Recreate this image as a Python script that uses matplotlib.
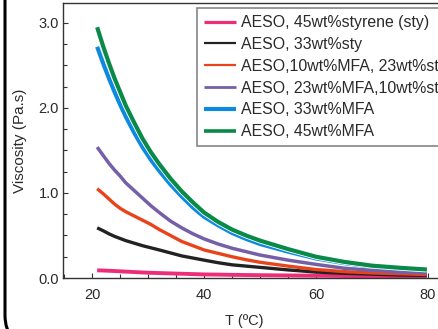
import matplotlib
matplotlib.use("Agg")
import matplotlib.pyplot as plt
from matplotlib.patches import FancyBboxPatch
from matplotlib.transforms import IdentityTransform
import matplotlib.patheffects as pe

plt.rcParams["font.family"] = ["Liberation Sans", "DejaVu Sans"]

# temperature (degC) and viscosity (Pa.s)
temp = [20.9, 22, 23, 24, 25, 26, 27.5, 29, 30.5, 32, 34, 36, 38, 40,
        42.5, 45, 47.5, 50, 55, 60, 65, 70, 75, 79.8]

sty45 = [0.09, 0.088, 0.085, 0.082, 0.079, 0.075, 0.07, 0.065, 0.061, 0.058, 0.054, 0.05, 0.046, 0.042,
         0.04, 0.037, 0.035, 0.033, 0.03, 0.027, 0.024, 0.021, 0.018, 0.016]
sty33 = [0.59, 0.555, 0.52, 0.49, 0.465, 0.44, 0.41, 0.38, 0.355, 0.33, 0.295, 0.26, 0.235, 0.21,
         0.18, 0.155, 0.14, 0.125, 0.095, 0.07, 0.055, 0.045, 0.035, 0.03]
mfa10 = [1.05, 0.99, 0.93, 0.87, 0.82, 0.78, 0.73, 0.68, 0.63, 0.57, 0.50, 0.43, 0.38, 0.33,
         0.29, 0.25, 0.215, 0.185, 0.14, 0.10, 0.075, 0.06, 0.05, 0.04]
mfa23 = [1.54, 1.44, 1.35, 1.27, 1.20, 1.12, 1.03, 0.94, 0.85, 0.77, 0.67, 0.59, 0.52, 0.46,
         0.40, 0.35, 0.31, 0.27, 0.21, 0.16, 0.115, 0.09, 0.07, 0.06]
mfa33 = [2.72, 2.52, 2.35, 2.19, 2.04, 1.90, 1.71, 1.54, 1.39, 1.26, 1.10, 0.96, 0.83, 0.72,
         0.62, 0.53, 0.46, 0.40, 0.31, 0.23, 0.175, 0.135, 0.11, 0.09]
mfa45 = [2.95, 2.72, 2.53, 2.35, 2.19, 2.03, 1.83, 1.64, 1.48, 1.34, 1.17, 1.02, 0.89, 0.77,
         0.66, 0.57, 0.50, 0.44, 0.34, 0.25, 0.19, 0.145, 0.12, 0.10]

labels = [
    "AESO, 45wt%styrene (sty)",
    "AESO, 33wt%sty",
    "AESO,10wt%MFA, 23wt%sty",
    "AESO, 23wt%MFA,10wt%sty",
    "AESO, 33wt%MFA",
    "AESO, 45wt%MFA",
]
series = [sty45, sty33, mfa10, mfa23, mfa33, mfa45]
colors = ["#ee2d78", "#222222", "#e8431a", "#7560a8", "#0d8ae0", "#0a8a48"]
widths = [2.8, 2.4, 2.4, 2.5, 3.0, 3.0]
legend_widths = [2.3, 1.6, 1.6, 2.0, 3.0, 2.6]

fig = plt.figure(figsize=(4.39, 3.29), dpi=100)
ax = fig.add_axes([63 / 439, 51 / 329, 379 / 439, 275 / 329])

for y, lab, c, lw in zip(series, labels, colors, widths):
    line, = ax.plot(temp, y, color=c, lw=lw, label=lab, solid_capstyle="butt")
    if lab.endswith("45wt%MFA"):
        line.set_path_effects([pe.Stroke(linewidth=lw + 1.2, foreground="white"), pe.Normal()])

ax.set_xlim(14.8, 82.5)
ax.set_ylim(0, 3.235)
ax.set_xticks([20, 40, 60, 80])
ax.set_xticks(range(15, 85, 5), minor=True)
ax.set_yticks([0, 1, 2, 3])
ax.set_yticklabels(["0.0", "1.0", "2.0", "3.0"])
ax.set_yticks([i * 0.25 for i in range(13)], minor=True)

ax.tick_params(which="both", direction="in", color="#333333", labelcolor="#2a2a2a", labelsize=10.5)
ax.tick_params(which="major", length=3.5, width=0.8)
ax.tick_params(which="minor", length=3, width=0.8)
ax.tick_params(axis="x", pad=7)
ax.tick_params(axis="y", pad=3)
for s in ax.spines.values():
    s.set_color("#333333")
    s.set_linewidth(1.0)

ax.set_ylabel("Viscosity (Pa.s)", fontsize=11, color="#2a2a2a")
ax.set_xlabel("T (ºC)", fontsize=10.5, color="#2a2a2a")
ax.yaxis.set_label_coords(-0.095, 0.5)
ax.xaxis.set_label_coords(0.478, -0.132)

leg = ax.legend(loc="upper left", bbox_to_anchor=(197 / 439, 1 - 8 / 329),
                bbox_transform=fig.transFigure, fontsize=11.4, frameon=True,
                fancybox=False, borderpad=0.45, labelspacing=0.43,
                handlelength=2.0, handletextpad=0.35, borderaxespad=0)
leg.get_frame().set_edgecolor("#666666")
leg.get_frame().set_linewidth(1.2)
for h, lw in zip(leg.get_lines(), legend_widths):
    h.set_linewidth(lw)
    h.set_path_effects([])
for t in leg.get_texts():
    t.set_color("#2a2a2a")

# rounded outer frame (only its left side shows in the crop)
frame = FancyBboxPatch((5, -16), 520, 400, boxstyle="round,pad=0,rounding_size=30",
                       transform=IdentityTransform(), fill=False, ec="black", lw=2.2)
fig.patches.append(frame)

fig.savefig("out.png", dpi=100)
